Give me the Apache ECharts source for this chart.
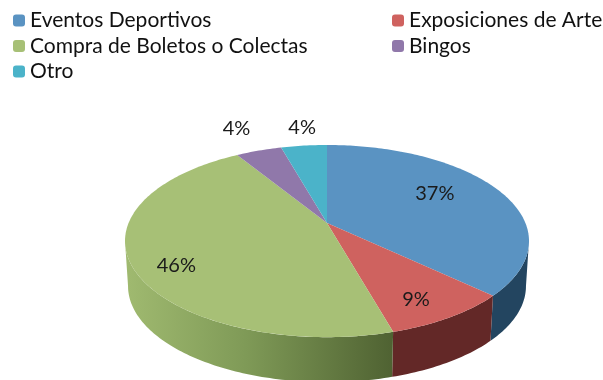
<!DOCTYPE html>
<html><head><meta charset="utf-8">
<script src="https://cdn.jsdelivr.net/npm/echarts@6/dist/echarts.min.js"></script>
<style>html,body{margin:0;padding:0;background:#fff}#c{width:603px;height:380px;filter:blur(0.6px)}</style>
</head><body><div id="c"></div>
<script>
const categories = ['Eventos Deportivos','Exposiciones de Arte','Compra de Boletos o Colectas','Bingos','Otro'];
const shares = [37, 8.6, 45.6, 4.4, 4.4];
const topColors = ['#5a93c2','#cf625f','#a7c076','#9078aa','#4bb3c9'];
const sideColors = ['#234560','#632827',null,'#6a5580','#2f7f90'];
const labelR = [0.65,0.75,0.8,1.2,1.2];
const labelNudge = [[-5,-7],[1,9],[4,11],[-11,-10],[2,-5]];

// projected disc: apex, half axes, perspective and thickness
const cx=327, cy=223, A=198.4, B=92.7, K=0.188, depth=45, bottomScale=0.985;
const font='Lato';
function project(deg,r){
  const t=deg*Math.PI/180, s=Math.sin(t), c=Math.cos(t), d=1+K*r*c;
  return [cx+A*r*s/d, cy-B*r*c/d];
}
const total=shares.reduce((a,b)=>a+b,0);
let acc=0;
const spans=shares.map(v=>{const a=acc/total*360; acc+=v; return [a,acc/total*360];});
const silL=Math.acos(-K)*180/Math.PI, silR=360-silL;

function rim(a,b){const p=[];const n=Math.max(2,Math.ceil(Math.abs(b-a)));
  for(let i=0;i<=n;i++)p.push(project(a+(b-a)*i/n,1));return p;}

const sideSeries=categories.map((name,i)=>({
  type:'custom',name:name+' ',coordinateSystem:'none',silent:true,z:1,data:[shares[i]],
  renderItem(){
    const a=Math.max(spans[i][0],silL), b=Math.min(spans[i][1],silR);
    if(b<=a)return {type:'group',children:[]};
    const up=rim(a,b), low=up.slice().reverse().map(p=>[cx+(p[0]-cx)*bottomScale,p[1]+depth]);
    const fill=sideColors[i]||new echarts.graphic.LinearGradient(0,0,1,0,[
      {offset:0,color:'#a0ba70'},{offset:0.45,color:'#7f9a57'},{offset:1,color:'#4f6232'}]);
    return {type:'polygon',shape:{points:up.concat(low)},style:{fill}};
  }
}));
const topSeries=categories.map((name,i)=>({
  type:'custom',name,coordinateSystem:'none',silent:true,z:2,data:[shares[i]],
  itemStyle:{color:topColors[i]},
  renderItem(){
    const pts=[[cx,cy]].concat(rim(spans[i][0],spans[i][1]));
    const mid=(spans[i][0]+spans[i][1])/2, p=project(mid,labelR[i]);
    return {type:'group',children:[
      {type:'polygon',shape:{points:pts},style:{fill:topColors[i]}},
      {type:'text',z2:10,style:{text:Math.round(shares[i]/total*100)+'%',
        x:p[0]+labelNudge[i][0],y:p[1]+labelNudge[i][1],align:'center',verticalAlign:'middle',
        font:'20px '+font,fill:'#1a1a1a'}}
    ]};
  }
}));
const legendBase={orient:'vertical',itemWidth:12,itemHeight:12,itemGap:0.5,selectedMode:false,
  textStyle:{fontFamily:font,fontSize:21,color:'#111',lineHeight:25},padding:0};
const chart=echarts.init(document.getElementById('c'),null,{renderer:'canvas'});
chart.setOption({animation:false,backgroundColor:'#fff',
  legend:[
    Object.assign({},legendBase,{left:13,top:8,data:[categories[0],categories[2],categories[4]]}),
    Object.assign({},legendBase,{left:392,top:8,data:[categories[1],categories[3]]})
  ],
  series:sideSeries.concat(topSeries)
});
</script></body></html>
